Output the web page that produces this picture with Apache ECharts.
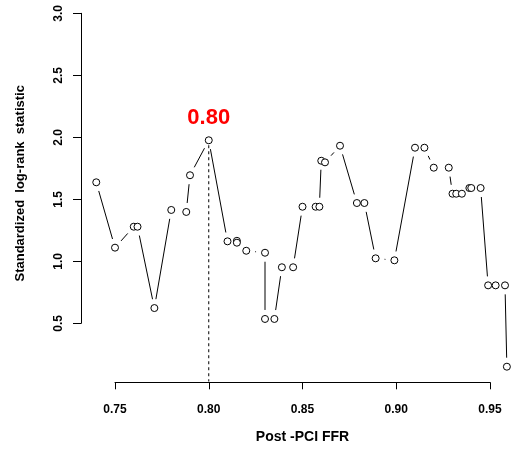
<!DOCTYPE html>
<html>
<head>
<meta charset="utf-8">
<script src="https://cdn.jsdelivr.net/npm/echarts@6/dist/echarts.min.js"></script>
<style>
	html, body { margin: 0; padding: 0; background: #fff; }
	#chart { width: 511px; height: 455px; }
</style>
</head>
<body>
<div id="chart"></div>
<script>
// cut-off values of post-PCI FFR
var ffrCut = [
	0.740, 0.750, 0.760, 0.762, 0.771, 0.780, 0.788, 0.790, 0.800, 0.810,
	0.815, 0.815, 0.820, 0.830, 0.830, 0.835, 0.839, 0.845, 0.850, 0.857,
	0.859, 0.860, 0.862, 0.870, 0.879, 0.883, 0.889, 0.899, 0.910, 0.915,
	0.920, 0.928, 0.930, 0.932, 0.935, 0.939, 0.940, 0.945, 0.949, 0.953,
	0.958, 0.959
]
// standardized log-rank statistic at each cut-off
var logRankStat = [
	1.637, 1.110, 1.279, 1.279, 0.623, 1.414, 1.398, 1.694, 1.976, 1.161,
	1.165, 1.150, 1.085, 1.069, 0.535, 0.535, 0.952, 0.952, 1.440, 1.440,
	1.440, 1.811, 1.798, 1.932, 1.470, 1.470, 1.024, 1.008, 1.916, 1.916,
	1.755, 1.755, 1.545, 1.545, 1.545, 1.591, 1.591, 1.591, 0.806, 0.806,
	0.806, 0.150
]
var bestCut = 0.80
var bestLabel = '0.80'
var xTicks = [0.75, 0.80, 0.85, 0.90, 0.95]
var yTicks = [0.5, 1.0, 1.5, 2.0, 2.5, 3.0]

var fontFamily = '"Liberation Sans", Arial, Helvetica, sans-serif'

var points = []
var segments = []
var bestIdx = 0
for (var i = 0; i < ffrCut.length; i++) {
	if (Math.abs(ffrCut[i] - bestCut) < 1e-9) bestIdx = i
}
for (var i = 0; i < ffrCut.length; i++) {
	var item = { value: [ffrCut[i], logRankStat[i]] }
	if (i == bestIdx) {
		item.label = {
			show: true,
			formatter: bestLabel,
			position: 'top',
			distance: 7,
			color: '#ff0000',
			fontSize: 22,
			fontWeight: 'bold',
			fontFamily: fontFamily,
		}
	}
	points.push(item)
	if (i > 0) {
		segments.push([ffrCut[i - 1], logRankStat[i - 1], ffrCut[i], logRankStat[i]])
	}
}

// R type="b": lines stop short of each point
var GAP = 9
function renderSegment(params, api) {
	var p1 = api.coord([api.value(0), api.value(1)])
	var p2 = api.coord([api.value(2), api.value(3)])
	var dx = p2[0] - p1[0]
	var dy = p2[1] - p1[1]
	var d = Math.sqrt(dx * dx + dy * dy)
	if (d <= 2 * GAP) return null
	var ux = dx / d
	var uy = dy / d
	return {
		type: 'line',
		shape: {
			x1: p1[0] + ux * GAP,
			y1: p1[1] + uy * GAP,
			x2: p2[0] - ux * GAP,
			y2: p2[1] - uy * GAP,
		},
		style: { stroke: '#000', lineWidth: 1 },
	}
}

var chart = echarts.init(document.getElementById('chart'))
chart.setOption({
	animation: false,
	backgroundColor: '#fff',
	grid: {
		left: 115,
		right: 21,
		top: 13.3,
		bottom: 131.7,
	},
	xAxis: {
		type: 'value',
		min: xTicks[0],
		max: xTicks[xTicks.length - 1],
		interval: 0.05,
		offset: 59,
		splitLine: { show: false },
		axisLine: { show: true, lineStyle: { color: '#000', width: 1 } },
		axisTick: { show: true, length: 7, lineStyle: { color: '#000' } },
		axisLabel: {
			margin: 21,
			color: '#000',
			fontSize: 12,
			fontWeight: 'bold',
			fontFamily: fontFamily,
			formatter: function (v) { return v.toFixed(2) },
		},
		name: 'Post -PCI FFR',
		nameLocation: 'middle',
		nameGap: 48,
		nameTextStyle: { color: '#000', fontSize: 14, fontWeight: 'bold', fontFamily: fontFamily },
	},
	yAxis: {
		type: 'value',
		min: yTicks[0],
		max: yTicks[yTicks.length - 1],
		interval: 0.5,
		offset: 34,
		splitLine: { show: false },
		axisLine: { show: true, lineStyle: { color: '#000', width: 1 } },
		axisTick: { show: true, length: 8, lineStyle: { color: '#000' } },
		axisLabel: {
			rotate: 90,
			margin: 16,
			color: '#000',
			fontSize: 12,
			fontWeight: 'bold',
			fontFamily: fontFamily,
			formatter: function (v) { return v.toFixed(1) },
		},
		name: 'Standardized  log-rank  statistic',
		nameLocation: 'middle',
		nameRotate: 90,
		nameGap: 54,
		nameTextStyle: {
			color: '#000',
			fontSize: 13,
			fontWeight: 'bold',
			fontFamily: fontFamily,
			padding: [0, 30, 0, 0],
		},
	},
	series: [
		{
			type: 'line',
			data: [[bestCut, logRankStat[bestIdx] - 0.04], [bestCut, 0.03]],
			symbol: 'none',
			clip: false,
			silent: true,
			lineStyle: { color: '#000', width: 1, type: [3, 3] },
			z: 1,
		},
		{
			type: 'custom',
			data: segments,
			renderItem: renderSegment,
			encode: { x: [0, 2], y: [1, 3] },
			clip: false,
			silent: true,
			z: 2,
		},
		{
			type: 'scatter',
			data: points,
			symbol: 'circle',
			symbolSize: 7,
			clip: false,
			itemStyle: { color: '#fff', borderColor: '#000', borderWidth: 1, opacity: 1 },
			z: 3,
		},
	],
})
</script>
</body>
</html>
